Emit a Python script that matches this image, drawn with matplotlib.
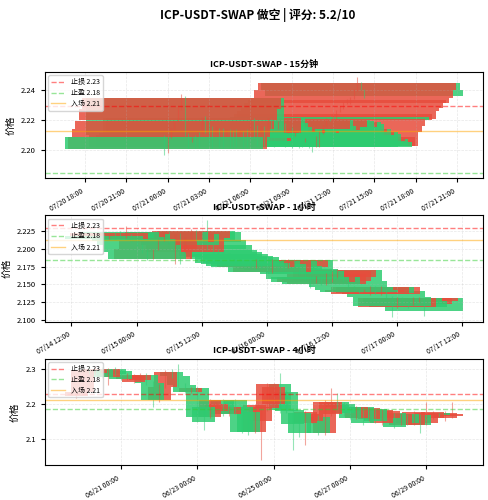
import matplotlib
matplotlib.use('Agg')
import matplotlib.pyplot as plt
import matplotlib.dates as mdates
import pandas as pd
import numpy as np

plt.rcParams['font.family'] = ['Noto Sans CJK SC', 'DejaVu Sans']
plt.rcParams['axes.unicode_minus'] = False

symbol = 'ICP-USDT-SWAP'
score = 5.2
stop_loss = 2.2295
take_profit = 2.1840
entry = 2.2122

# 15分钟
t15 = pd.date_range('2025-07-20 23:45', periods=59, freq='15min')
o15 = [2.2083, 2.2006, 2.2087, 2.2138, 2.2200, 2.2275, 2.2350, 2.2100, 2.2060, 2.2095,
       2.2110, 2.2110, 2.2215, 2.2180, 2.2150, 2.2120, 2.2140, 2.2135, 2.2110, 2.2130,
       2.2125, 2.2129, 2.2110, 2.2120, 2.2130, 2.2140, 2.2198, 2.2160, 2.2130, 2.2150,
       2.2150, 2.2200, 2.2190, 2.2150, 2.2185, 2.2170, 2.2120, 2.2140, 2.2100, 2.2116,
       2.2105, 2.2060, 2.2072, 2.2050, 2.2022, 2.2025, 2.2116, 2.2160, 2.2220, 2.2202,
       2.2205, 2.2260, 2.2282, 2.2315, 2.2315, 2.2348, 2.2403, 2.2447, 2.2403]
c15 = [2.2006, 2.2087, 2.2138, 2.2189, 2.2275, 2.2350, 2.2100, 2.2020, 2.2078, 2.2018,
       2.2025, 2.2215, 2.2120, 2.2040, 2.2020, 2.2140, 2.2030, 2.2020, 2.2130, 2.2025,
       2.2020, 2.2030, 2.2125, 2.2020, 2.2025, 2.2198, 2.2080, 2.2030, 2.2150, 2.2025,
       2.2200, 2.2060, 2.2030, 2.2185, 2.2040, 2.2025, 2.2140, 2.2020, 2.2116, 2.2020,
       2.2025, 2.2072, 2.2022, 2.2018, 2.2085, 2.2116, 2.2160, 2.2205, 2.2202, 2.2240,
       2.2260, 2.2282, 2.2315, 2.2330, 2.2348, 2.2403, 2.2447, 2.2403, 2.2359]
h15 = [2.2095, 2.2092, 2.2145, 2.2195, 2.2285, 2.2375, 2.2360, 2.2110, 2.2085, 2.2100,
       2.2118, 2.2222, 2.2225, 2.2188, 2.2160, 2.2150, 2.2148, 2.2142, 2.2138, 2.2140,
       2.2132, 2.2136, 2.2130, 2.2128, 2.2138, 2.2205, 2.2210, 2.2168, 2.2160, 2.2158,
       2.2210, 2.2208, 2.2198, 2.2192, 2.2195, 2.2178, 2.2148, 2.2150, 2.2122, 2.2125,
       2.2112, 2.2080, 2.2080, 2.2058, 2.2092, 2.2122, 2.2168, 2.2212, 2.2228, 2.2248,
       2.2268, 2.2290, 2.2322, 2.2340, 2.2355, 2.2410, 2.2489, 2.2455, 2.2410]
l15 = [2.1965, 2.1975, 2.2080, 2.2130, 2.2192, 2.2268, 2.2092, 2.2012, 2.2052, 2.2010,
       2.2015, 2.2102, 2.2112, 2.2030, 2.2008, 2.2112, 2.2020, 2.2010, 2.2100, 2.2015,
       2.2012, 2.2020, 2.2102, 2.2010, 2.2015, 2.2132, 2.2072, 2.2022, 2.2120, 2.2015,
       2.2142, 2.2050, 2.2020, 2.2140, 2.2032, 2.2015, 2.2112, 2.2010, 2.2092, 2.2010,
       2.2015, 2.2052, 2.2012, 2.1984, 2.2015, 2.2018, 2.2108, 2.2152, 2.2195, 2.2195,
       2.2198, 2.2252, 2.2275, 2.2308, 2.2308, 2.2340, 2.2395, 2.2398, 2.2350]

# 1小时
t1h = pd.date_range('2025-07-14 18:00', periods=60, freq='1h')
o1h = [2.2180, 2.2140, 2.2217, 2.2230, 2.2160, 2.2200, 2.2130, 2.2050, 2.1952, 2.1860,
       2.1990, 2.2120, 2.2232, 2.2100, 2.2200, 2.1952, 2.2150, 2.2255, 2.2232, 2.2120,
       2.2050, 2.1980, 2.1950, 2.1929, 2.1900, 2.1880, 2.1830, 2.1800, 2.1743, 2.1830,
       2.1780, 2.1673, 2.1830, 2.1760, 2.1743, 2.1836, 2.1720, 2.1680, 2.1600, 2.1530,
       2.1600, 2.1510, 2.1550, 2.1600, 2.1696, 2.1550, 2.1460, 2.1420, 2.1390, 2.1370,
       2.1460, 2.1370, 2.1400, 2.1320, 2.1180, 2.1310, 2.1260, 2.1225, 2.1260, 2.1310]
c1h = [2.2140, 2.2217, 2.2150, 2.2160, 2.2200, 2.2115, 2.2050, 2.1952, 2.1860, 2.1990,
       2.2120, 2.2232, 2.2100, 2.2200, 2.2050, 2.2150, 2.2255, 2.2120, 2.2100, 2.2000,
       2.1950, 2.1900, 2.1880, 2.1850, 2.1800, 2.1780, 2.1760, 2.1740, 2.1836, 2.1750,
       2.1673, 2.1836, 2.1720, 2.1700, 2.1836, 2.1700, 2.1650, 2.1580, 2.1530, 2.1600,
       2.1510, 2.1650, 2.1680, 2.1696, 2.1550, 2.1460, 2.1420, 2.1390, 2.1420, 2.1460,
       2.1380, 2.1460, 2.1320, 2.1200, 2.1310, 2.1230, 2.1180, 2.1310, 2.1310, 2.1132]
h1h = [2.2200, 2.2225, 2.2230, 2.2245, 2.2320, 2.2210, 2.2140, 2.2060, 2.1990, 2.2000,
       2.2130, 2.2245, 2.2250, 2.2210, 2.2215, 2.2165, 2.2275, 2.2265, 2.2240, 2.2400,
       2.2070, 2.1995, 2.1965, 2.1940, 2.1915, 2.1895, 2.1845, 2.1815, 2.1850, 2.1845,
       2.1795, 2.1850, 2.1845, 2.1775, 2.1850, 2.1850, 2.1735, 2.1695, 2.1615, 2.1615,
       2.1615, 2.1665, 2.1690, 2.1710, 2.1705, 2.1565, 2.1475, 2.1435, 2.1430, 2.1470,
       2.1470, 2.1470, 2.1410, 2.1330, 2.1320, 2.1320, 2.1270, 2.1320, 2.1325, 2.1320]
l1h = [2.2120, 2.2130, 2.2135, 2.2145, 2.2150, 2.2100, 2.2035, 2.1935, 2.1845, 2.1850,
       2.1975, 2.2105, 2.2085, 2.1780, 2.1790, 2.1940, 2.2140, 2.2105, 2.2085, 2.1985,
       2.1935, 2.1885, 2.1865, 2.1835, 2.1785, 2.1765, 2.1745, 2.1725, 2.1730, 2.1735,
       2.1655, 2.1660, 2.1705, 2.1685, 2.1730, 2.1685, 2.1635, 2.1565, 2.1446, 2.1515,
       2.1495, 2.1495, 2.1535, 2.1585, 2.1535, 2.1445, 2.1405, 2.1375, 2.1375, 2.1355,
       2.1365, 2.1355, 2.1305, 2.1044, 2.1165, 2.1215, 2.1165, 2.1210, 2.1245, 2.1060]

# 4小时
t4h = pd.date_range('2025-06-19 20:00', periods=60, freq='4h')
o4h = [2.2222, 2.2350, 2.2990, 2.2880, 2.3019, 2.2780, 2.3000, 2.2950, 2.2730, 2.2635,
       2.2700, 2.2827, 2.2600, 2.2107, 2.2500, 2.2923, 2.2800, 2.2550, 2.2350, 2.2443,
       2.1900, 2.1627, 2.1800, 2.2107, 2.1700, 2.2100, 2.1900, 2.1770, 2.1195, 2.1500,
       2.1867, 2.2000, 2.2563, 2.2347, 2.1819, 2.1723, 2.1435, 2.1500, 2.1630, 2.1147,
       2.1700, 2.2059, 2.2000, 2.1915, 2.1600, 2.1900, 2.1550, 2.1850, 2.1435, 2.1600,
       2.1723, 2.1400, 2.1700, 2.1387, 2.1680, 2.1450, 2.1579, 2.1723, 2.1600, 2.1650]
c4h = [2.2350, 2.2990, 2.2880, 2.3019, 2.2780, 2.3000, 2.2850, 2.2730, 2.2827, 2.2800,
       2.2827, 2.2600, 2.2107, 2.2500, 2.2923, 2.2800, 2.2550, 2.2350, 2.2443, 2.1627,
       2.1480, 2.2107, 2.2000, 2.1700, 2.1900, 2.1750, 2.1195, 2.1200, 2.1963, 2.1900,
       2.2563, 2.2500, 2.1819, 2.1800, 2.1406, 2.1147, 2.1770, 2.1700, 2.1147, 2.2059,
       2.2059, 2.1900, 2.1723, 2.1600, 2.1900, 2.1435, 2.1880, 2.1500, 2.1819, 2.1800,
       2.1339, 2.1700, 2.1450, 2.1771, 2.1387, 2.1750, 2.1771, 2.1675, 2.1750, 2.1720]
h4h = [2.2400, 2.3030, 2.3050, 2.3080, 2.3060, 2.3040, 2.3070, 2.3000, 2.2880, 2.2850,
       2.2880, 2.2900, 2.2650, 2.2560, 2.2980, 2.3000, 2.3160, 2.2600, 2.2500, 2.2480,
       2.1950, 2.2150, 2.2050, 2.2150, 2.1950, 2.2150, 2.1950, 2.1820, 2.2000, 2.1950,
       2.2600, 2.2600, 2.2876, 2.2400, 2.1880, 2.1760, 2.1800, 2.1750, 2.1680, 2.2100,
       2.2443, 2.2299, 2.2050, 2.1950, 2.1950, 2.1920, 2.1920, 2.1880, 2.1850, 2.1830,
       2.1750, 2.1730, 2.1720, 2.1800, 2.1720, 2.2059, 2.1800, 2.1740, 2.1780, 2.2059]
l4h = [2.2180, 2.2300, 2.2850, 2.2820, 2.2750, 2.2539, 2.2820, 2.2700, 2.2700, 2.2600,
       2.2650, 2.2550, 2.1900, 2.2050, 2.2450, 2.2750, 2.2500, 2.2300, 2.2300, 2.1480,
       2.1243, 2.1600, 2.1750, 2.1650, 2.1650, 2.1700, 2.1150, 2.1100, 2.1150, 2.0377,
       2.1800, 2.1950, 2.1750, 2.1750, 2.0667, 2.1050, 2.0810, 2.1450, 2.1100, 2.1100,
       2.1650, 2.1850, 2.1650, 2.1550, 2.1550, 2.1400, 2.1500, 2.1450, 2.1400, 2.1550,
       2.1300, 2.1380, 2.1400, 2.1380, 2.1147, 2.1400, 2.1550, 2.1620, 2.1500, 2.1600]


def draw_candles(ax, times, o, h, l, c, title, locator):
    x = mdates.date2num(times.to_pydatetime())
    o, h, l, c = np.array(o), np.array(h), np.array(l), np.array(c)
    colors = np.where(c >= o, '#e74c3c', '#2ecc71')
    # 交易所返回的数据是最新在前
    idx = np.arange(len(x))[::-1]
    ax.bar(x[idx], np.abs(c - o)[idx], bottom=np.minimum(o, c)[idx], width=0.6,
           color=colors[idx], alpha=0.85)
    ax.vlines(x[idx], l[idx], h[idx], colors=colors[idx], linewidth=0.8, alpha=0.5)

    ax.axhline(stop_loss, color='red', linestyle='--', linewidth=1, alpha=0.5,
               label=f'止损 {stop_loss:.2f}')
    ax.axhline(take_profit, color='limegreen', linestyle='--', linewidth=1, alpha=0.5,
               label=f'止盈 {take_profit:.2f}')
    ax.axhline(entry, color='orange', linestyle='-', linewidth=1, alpha=0.5,
               label=f'入场 {entry:.2f}')

    ax.set_title(title, fontsize=6.5, fontweight='bold', pad=4)
    ax.set_ylabel('价格', fontsize=7)
    ax.xaxis.set_major_locator(locator)
    ax.xaxis.set_major_formatter(mdates.DateFormatter('%m/%d %H:%M'))
    ax.tick_params(axis='both', labelsize=5.5, length=3)
    plt.setp(ax.get_xticklabels(), rotation=30, ha='right', fontsize=5)
    ax.grid(True, alpha=0.3, linestyle='--', linewidth=0.5)
    ax.legend(loc='upper left', fontsize=5, handlelength=2.0, borderpad=0.4,
              labelspacing=0.4)


fig, axes = plt.subplots(3, 1, figsize=(4.89, 5.0), dpi=100)
fig.subplots_adjust(left=0.092, right=0.988, top=0.856, bottom=0.07, hspace=0.35)
fig.suptitle(f'{symbol} 做空 | 评分: {score}/10', fontsize=8.5, fontweight='bold',
             x=0.527, y=0.985)

draw_candles(axes[0], t15, o15, h15, l15, c15, f'{symbol} - 15分钟',
             mdates.HourLocator(byhour=range(0, 24, 3)))
draw_candles(axes[1], t1h, o1h, h1h, l1h, c1h, f'{symbol} - 1小时',
             mdates.HourLocator(byhour=[0, 12]))
draw_candles(axes[2], t4h, o4h, h4h, l4h, c4h, f'{symbol} - 4小时',
             mdates.DayLocator(bymonthday=range(1, 32, 2)))

fig.savefig('out.png', dpi=100)
